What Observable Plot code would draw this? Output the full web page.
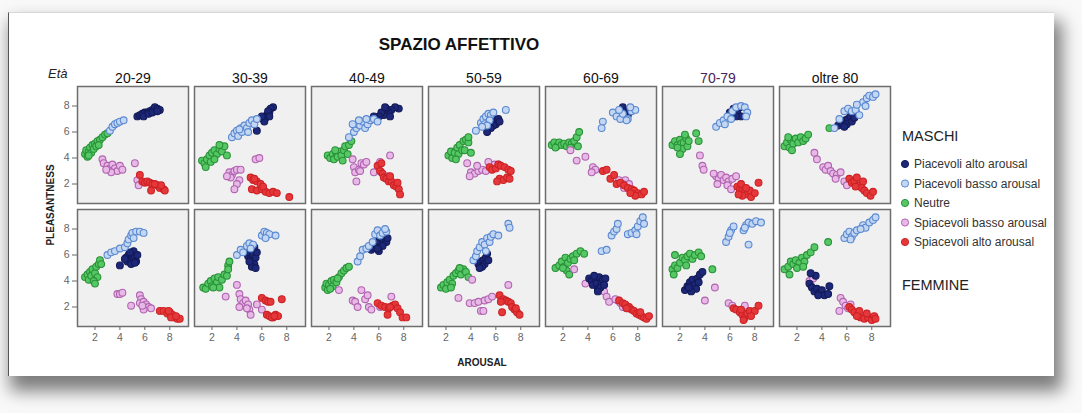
<!DOCTYPE html>
<html><head><meta charset="utf-8">
<script src="https://cdn.jsdelivr.net/npm/d3@7"></script>
<script src="https://cdn.jsdelivr.net/npm/@observablehq/plot@0.6"></script>
<style>
html,body{margin:0;padding:0;background:#f9f9f9;}
#wrap{position:relative;width:1082px;height:413px;overflow:hidden;font-family:"Liberation Sans",Arial,sans-serif;}
#card{position:absolute;left:8px;top:12px;width:1045px;height:363px;background:#fff;box-shadow:5px 12px 16px 3px rgba(0,0,0,0.5);border-left:1px solid #555;border-top:1px solid #d8d8d8;}
#chart{position:absolute;left:0;top:0;}
#overlay{position:absolute;left:0;top:0;}
</style></head>
<body>
<div id="wrap"><div id="card"></div><div id="chart"></div></div>
<script>
// ---- data ----
const ages = ["20-29","30-39","40-49","50-59","60-69","70-79","oltre 80"];
const sexes = ["M","F"];
const sexLabels = ["MASCHI","FEMMINE"];
const categories = ["Piacevoli alto arousal","Piacevoli basso arousal","Neutre","Spiacevoli basso arousal","Spiacevoli alto arousal"];
const xTicks = [2,4,6,8];
const yTicks = [2,4,6,8];

// [sex, age, [[arousal, pleasantness], ...]]
const piacevoliAlto = [
 ["M","20-29",[[5.4,7.2],[5.6,7.3],[5.8,7.4],[6.0,7.5],[6.2,7.5],[6.4,7.6],[6.6,7.7],[6.8,7.9],[7.0,7.8],[7.2,7.7],[5.9,7.2],[6.3,7.4],[6.6,7.5],[7.0,7.6]]],
 ["M","30-39",[[6.9,7.9],[6.7,7.8],[6.6,7.5],[6.4,7.3],[6.3,7.1],[6.1,7.0],[6.2,6.8],[6.0,7.2],[6.5,7.6],[5.6,6.1],[6.6,7.2]]],
 ["M","40-49",[[7.6,7.8],[7.3,7.9],[7.0,7.7],[6.8,7.5],[6.6,7.8],[6.4,7.3],[6.2,7.5],[6.0,7.2],[5.8,7.0],[5.6,7.2],[5.3,6.9],[5.0,6.7],[6.9,7.2],[6.5,7.9]]],
 ["M","50-59",[[5.3,7.0],[5.5,6.8],[5.7,7.1],[5.9,6.9],[6.0,6.6],[6.2,7.0],[5.8,6.5],[5.6,6.3],[5.3,6.0],[6.3,6.8]]],
 ["M","60-69",[[6.8,7.9],[7.0,7.6],[7.2,7.3],[6.9,7.1],[7.3,7.7],[6.6,7.4]]],
 ["M","70-79",[[6.0,7.5],[6.3,7.8],[6.6,7.5],[6.9,7.2],[6.5,7.2],[6.8,7.9]]],
 ["M","oltre 80",[[5.3,6.5],[5.6,6.7],[5.9,6.9],[6.1,7.0],[6.3,7.2],[6.5,7.4],[6.7,7.6],[6.0,6.6],[6.4,6.8],[5.8,6.4],[6.6,7.1]]],
 ["F","20-29",[[4.5,5.8],[4.7,6.0],[4.8,5.6],[5.0,6.1],[5.0,5.7],[5.2,5.9],[5.3,5.5],[5.1,6.3],[4.6,5.5],[4.9,5.3],[5.4,6.0],[4.0,5.2],[4.4,5.7],[5.2,5.4],[4.8,6.2]]],
 ["F","30-39",[[4.9,5.9],[5.0,6.2],[5.1,5.7],[5.2,6.4],[5.3,5.5],[5.3,6.0],[5.4,5.3],[5.5,5.8],[5.2,5.1],[5.6,6.2],[5.4,6.6],[5.0,5.5],[5.5,5.0]]],
 ["F","40-49",[[5.4,6.4],[5.6,6.6],[5.8,6.8],[6.0,7.1],[6.2,7.3],[6.4,7.1],[6.6,7.0],[6.3,6.7],[6.0,6.3],[6.5,7.4],[5.9,6.5],[6.7,7.3]]],
 ["F","50-59",[[4.6,5.3],[4.8,5.5],[5.0,5.6],[5.2,5.8],[5.3,6.1],[5.1,5.3],[4.9,5.1],[5.4,5.6],[4.7,5.0]]],
 ["F","60-69",[[4.1,4.2],[4.3,4.0],[4.4,3.7],[4.6,4.2],[4.7,3.8],[4.8,3.4],[4.9,4.3],[5.1,3.9],[5.2,4.1],[5.0,3.5],[5.4,4.2],[4.5,4.4],[4.8,3.2],[5.3,3.7]]],
 ["F","70-79",[[2.4,3.3],[2.6,3.6],[2.8,3.9],[3.0,4.1],[3.2,3.7],[3.4,4.2],[3.6,4.5],[3.8,4.7],[3.3,3.4],[2.9,3.2],[3.5,3.9],[2.7,3.5]]],
 ["F","oltre 80",[[3.0,3.8],[3.2,3.5],[3.4,3.2],[3.6,3.4],[3.8,3.1],[4.0,3.3],[4.2,2.9],[4.5,3.0],[4.6,3.6],[3.5,4.4],[3.1,4.6],[3.7,2.9]]]
];
const piacevoliBasso = [
 ["M","20-29",[[3.2,6.1],[3.4,6.4],[3.6,6.6],[3.8,6.7],[4.0,6.8],[4.3,6.9]]],
 ["M","30-39",[[3.6,5.6],[3.8,5.9],[4.0,6.1],[4.1,5.7],[4.3,6.3],[4.4,6.0],[4.6,6.5],[4.8,6.3],[5.0,6.7],[5.2,6.9],[5.4,6.6],[5.6,7.0],[4.2,6.2],[4.9,6.0]]],
 ["M","40-49",[[3.6,5.6],[4.0,6.0],[4.2,6.3],[4.3,6.6],[4.5,6.5],[4.7,6.8],[4.9,6.3],[5.1,6.6],[5.3,6.9],[5.6,7.0],[5.9,6.8],[4.4,6.9],[5.0,7.0],[3.9,6.6]]],
 ["M","50-59",[[4.4,6.1],[4.8,6.7],[5.0,7.0],[5.2,7.2],[5.4,7.4],[5.6,7.3],[5.8,7.5],[5.5,6.9],[5.1,6.6],[6.8,7.7],[5.3,6.5],[4.9,6.4]]],
 ["M","60-69",[[6.0,7.5],[6.3,7.2],[6.6,7.0],[6.8,7.4],[7.2,7.0],[7.5,7.6],[7.8,7.7],[7.4,7.9],[6.5,7.7],[7.1,6.9],[5.2,6.8],[5.1,6.3]]],
 ["M","70-79",[[4.9,6.4],[5.2,6.7],[5.5,6.9],[5.8,7.2],[6.2,7.6],[6.5,7.9],[6.9,8.0],[7.2,7.9],[7.4,7.5],[7.3,7.2],[6.1,7.0],[5.6,6.6]]],
 ["M","oltre 80",[[5.0,6.3],[5.4,7.0],[5.8,7.6],[6.1,7.8],[6.4,7.6],[6.7,7.7],[7.3,8.3],[7.6,8.6],[7.8,8.8],[8.1,8.7],[8.3,8.9],[7.5,8.0],[7.0,7.3],[6.8,8.1]]],
 ["F","20-29",[[3.0,6.0],[3.3,6.2],[3.6,6.3],[4.0,6.5],[4.4,6.6],[4.6,6.9],[4.7,7.2],[4.9,7.5],[5.0,7.7],[5.3,7.8],[5.6,7.8],[5.9,7.7],[5.1,7.3]]],
 ["F","30-39",[[4.0,6.0],[4.3,6.4],[4.5,6.2],[4.8,6.7],[5.0,6.9],[5.3,6.8],[6.0,7.5],[6.2,7.8],[6.4,7.7],[6.6,7.6],[7.1,7.5],[6.3,7.3],[5.1,6.5]]],
 ["F","40-49",[[4.3,5.5],[4.5,5.9],[4.7,6.4],[5.0,6.5],[5.2,6.7],[5.7,7.6],[5.9,7.9],[6.1,7.5],[6.3,7.7],[6.6,7.8],[5.5,7.0],[6.5,8.0]]],
 ["F","50-59",[[4.2,5.6],[4.4,5.9],[4.5,6.3],[4.7,6.6],[4.9,7.0],[5.1,6.8],[5.3,7.3],[5.5,7.0],[5.6,7.4],[5.8,7.6],[6.2,7.5],[7.0,8.4],[7.1,8.1],[5.2,6.3]]],
 ["F","60-69",[[5.9,7.5],[6.1,7.8],[6.3,8.0],[6.4,8.4],[7.2,7.6],[7.5,7.7],[7.8,7.9],[8.0,8.2],[8.2,8.6],[8.4,8.9],[8.5,8.4],[7.9,7.6],[5.1,6.3],[5.5,6.4]]],
 ["F","70-79",[[5.7,7.0],[5.9,7.4],[6.1,7.9],[6.3,8.2],[6.0,7.7],[7.1,7.9],[7.3,8.3],[7.5,8.5],[7.8,8.4],[8.1,8.6],[8.5,8.5],[7.5,6.8],[7.2,8.1]]],
 ["F","oltre 80",[[5.8,7.3],[6.0,7.6],[6.2,7.8],[6.4,7.4],[6.6,7.7],[6.8,7.9],[7.3,8.3],[7.5,8.1],[7.8,8.5],[8.1,8.7],[8.3,8.9],[6.3,7.2],[7.1,8.0]]]
];
const neutre = [
 ["M","20-29",[[1.2,4.3],[1.3,4.6],[1.4,4.1],[1.5,4.5],[1.6,4.8],[1.7,4.4],[1.8,5.0],[1.9,4.7],[2.0,5.1],[2.1,4.9],[2.2,5.3],[2.4,5.4],[2.6,5.6],[2.8,5.8],[3.0,5.9],[1.5,4.2],[2.3,5.0]]],
 ["M","30-39",[[1.2,3.8],[1.4,3.6],[1.6,3.9],[1.8,4.2],[1.9,3.7],[2.0,4.4],[2.2,4.6],[2.4,4.3],[2.6,4.7],[2.8,4.5],[3.0,4.9],[1.5,3.3],[2.2,3.9],[3.2,4.2],[2.6,5.0]]],
 ["M","40-49",[[1.9,4.2],[2.1,4.0],[2.3,4.3],[2.4,3.9],[2.6,4.4],[2.7,4.1],[2.9,4.5],[3.0,4.2],[3.2,4.6],[3.3,4.9],[3.5,4.3],[3.6,5.0],[3.8,5.3],[2.5,4.6],[3.1,3.8]]],
 ["M","50-59",[[2.2,4.2],[2.4,4.5],[2.5,4.0],[2.7,4.4],[2.9,4.8],[3.0,4.3],[3.1,5.0],[3.3,4.6],[3.4,5.3],[3.6,5.4],[3.8,5.2],[2.8,3.9],[3.5,4.6],[4.0,4.4],[3.8,5.6]]],
 ["M","60-69",[[1.1,5.0],[1.3,5.2],[1.5,4.9],[1.7,5.2],[1.9,5.0],[2.1,5.1],[2.3,4.9],[2.5,5.2],[2.7,5.1],[2.9,5.3],[3.1,5.6],[3.3,6.0],[3.2,4.9],[1.4,4.8],[2.6,4.8]]],
 ["M","70-79",[[1.4,5.0],[1.6,5.3],[1.8,5.0],[2.0,5.4],[2.1,5.1],[2.3,5.2],[2.5,5.5],[2.2,4.7],[2.0,4.3],[1.8,4.8],[2.6,4.9],[3.3,5.9],[3.5,5.3],[2.4,5.8],[2.7,5.3]]],
 ["M","oltre 80",[[1.0,4.9],[1.2,5.2],[1.4,4.8],[1.5,5.4],[1.7,5.1],[1.9,5.5],[2.1,5.2],[2.3,5.6],[2.5,5.3],[2.7,5.5],[2.9,5.8],[1.3,5.6],[1.6,4.6],[4.6,6.3]]],
 ["F","20-29",[[1.2,4.3],[1.4,4.5],[1.5,4.1],[1.6,4.7],[1.7,4.4],[1.8,4.9],[2.0,4.6],[2.1,5.1],[2.2,4.3],[2.3,5.3],[2.4,5.6],[1.9,4.0],[2.0,3.8],[2.5,5.3]]],
 ["F","30-39",[[1.3,3.5],[1.5,3.4],[1.7,3.8],[1.9,4.0],[2.0,3.6],[2.2,4.2],[2.4,3.9],[2.5,4.3],[2.6,3.5],[2.8,4.1],[3.0,4.5],[3.2,4.4],[3.3,5.2],[3.4,5.5],[3.3,4.9],[2.1,3.5]]],
 ["F","40-49",[[1.7,3.5],[1.8,3.8],[1.9,3.3],[2.0,3.7],[2.2,4.0],[2.3,3.6],[2.4,4.1],[2.6,3.9],[2.8,4.3],[3.0,4.6],[3.2,4.8],[3.4,5.0],[3.6,5.1],[2.1,3.4],[2.7,4.2]]],
 ["F","50-59",[[1.6,3.5],[1.8,3.7],[2.0,3.4],[2.1,3.9],[2.3,4.1],[2.5,3.8],[2.6,4.4],[2.8,4.6],[3.0,4.8],[3.2,4.5],[3.4,4.9],[3.6,4.7],[3.8,4.3],[2.4,3.5],[3.1,5.0]]],
 ["F","60-69",[[1.4,5.0],[1.7,5.2],[1.9,5.5],[2.1,5.1],[2.2,5.8],[2.4,5.4],[2.6,5.7],[2.8,5.9],[3.1,6.1],[3.4,6.3],[3.7,6.1],[2.3,4.8],[2.5,4.5],[2.0,5.0],[2.9,5.6]]],
 ["F","70-79",[[1.4,4.9],[1.6,5.2],[1.5,4.5],[1.8,5.0],[2.0,5.4],[2.2,5.8],[2.4,5.6],[2.6,5.9],[2.8,6.1],[3.0,5.7],[3.2,6.0],[3.5,6.2],[3.7,5.9],[4.6,4.9],[2.5,5.2],[1.6,6.0]]],
 ["F","oltre 80",[[1.0,4.9],[1.3,5.1],[1.5,5.5],[1.7,5.3],[1.9,5.6],[2.2,5.4],[2.4,5.8],[2.6,5.5],[2.8,6.0],[3.1,6.2],[3.4,6.6],[4.5,7.0],[1.4,4.5],[2.0,5.0],[2.5,5.1]]]
];
const spiacevoliBasso = [
 ["M","20-29",[[2.6,3.9],[2.7,3.6],[3.0,3.4],[3.2,3.2],[3.4,3.5],[3.6,3.2],[3.8,3.0],[4.0,3.4],[4.2,3.1],[3.3,2.9],[5.2,3.6],[2.9,3.1],[5.4,2.3],[5.5,1.9]]],
 ["M","30-39",[[3.4,2.9],[3.6,2.7],[3.8,3.0],[4.0,3.1],[4.3,3.1],[3.5,2.5],[4.2,2.3],[4.0,2.0],[3.8,1.6],[5.5,3.9],[5.8,4.0],[3.2,2.6]]],
 ["M","40-49",[[4.0,3.3],[4.1,2.9],[4.4,3.1],[4.6,3.6],[4.8,3.5],[5.0,3.7],[4.2,2.2],[4.5,3.0],[5.6,2.9],[6.2,2.9],[6.9,4.2],[6.7,2.6],[6.1,3.7],[3.9,3.9]]],
 ["M","50-59",[[3.7,3.6],[4.0,2.9],[4.3,2.8],[4.6,3.0],[4.9,3.1],[5.2,3.0],[5.5,3.3],[5.9,3.5],[4.5,3.4],[3.9,2.6],[5.4,3.7],[6.2,3.5]]],
 ["M","60-69",[[2.6,4.6],[3.1,3.8],[3.8,4.1],[4.4,3.3],[4.6,3.1],[4.3,2.9],[7.0,2.3],[7.2,1.8],[6.8,2.0],[6.5,2.3],[7.3,2.0],[6.9,1.7]]],
 ["M","70-79",[[3.6,4.2],[3.8,3.4],[3.9,3.1],[4.9,2.6],[5.1,2.4],[5.3,2.7],[5.5,2.3],[5.7,2.5],[5.9,2.2],[6.2,2.4],[6.5,2.6],[5.0,2.0],[5.8,1.9],[6.1,1.6],[4.7,2.8]]],
 ["M","oltre 80",[[3.4,4.4],[3.6,3.9],[4.1,3.3],[4.3,3.1],[4.5,3.4],[4.7,3.0],[4.9,2.8],[5.2,2.7],[5.5,2.9],[5.1,2.4],[5.8,2.2],[6.0,1.9]]],
 ["F","20-29",[[3.8,3.0],[4.0,3.0],[4.2,3.1],[4.9,2.1],[5.6,2.9],[5.7,2.6],[5.6,2.3],[5.9,2.4],[6.1,2.2],[6.3,2.0],[5.9,1.8],[6.5,1.9],[5.8,2.1]]],
 ["F","30-39",[[3.1,2.8],[4.0,3.7],[4.2,3.0],[4.3,2.6],[4.5,2.3],[4.2,2.0],[4.7,2.5],[4.9,2.2],[5.0,1.8],[5.1,1.4],[5.6,2.2],[6.0,1.8],[4.8,1.9]]],
 ["F","40-49",[[2.8,3.3],[3.9,2.5],[4.1,2.4],[4.6,3.3],[4.9,2.6],[5.1,2.9],[5.2,2.0],[5.4,1.8],[6.1,2.0],[7.0,2.8],[4.3,2.0]]],
 ["F","50-59",[[3.0,2.7],[3.9,2.3],[4.3,2.3],[4.6,2.4],[5.1,2.5],[5.4,2.6],[5.7,2.8],[7.0,3.7],[4.1,4.1],[4.8,1.7],[5.0,1.7]]],
 ["F","60-69",[[3.8,3.8],[5.3,3.2],[5.5,2.8],[5.7,2.4],[6.4,2.5],[6.6,2.3],[6.8,2.0],[7.0,2.1],[6.2,2.6],[7.2,1.9],[2.9,4.9]]],
 ["F","70-79",[[4.8,3.5],[4.0,2.5],[5.9,2.3],[6.2,2.1],[7.2,2.1]]],
 ["F","oltre 80",[[3.0,4.0],[3.3,4.2],[5.5,2.7],[5.7,2.4],[5.9,2.1],[6.1,1.9],[5.4,1.7],[6.3,2.2],[3.1,3.7]]]
];
const spiacevoliAlto = [
 ["M","20-29",[[5.6,2.7],[5.8,2.2],[6.0,2.1],[6.2,2.2],[6.4,2.1],[6.6,2.0],[6.5,1.5],[7.0,1.9],[7.2,1.7],[7.5,1.6],[7.6,1.5],[7.3,1.9],[6.8,2.0]]],
 ["M","30-39",[[5.1,2.5],[5.3,2.3],[5.6,2.2],[5.9,2.0],[5.2,1.6],[5.6,1.5],[6.0,1.6],[6.3,1.4],[6.6,1.3],[6.9,1.4],[7.2,1.3],[8.2,1.0],[5.4,2.4],[6.1,1.8]]],
 ["M","40-49",[[5.9,3.4],[6.1,3.0],[6.3,2.8],[6.4,2.5],[6.6,2.4],[6.8,2.2],[7.0,2.2],[7.2,1.9],[7.4,1.8],[7.6,1.6],[7.7,1.2],[7.5,2.1],[6.2,3.6],[6.9,2.6]]],
 ["M","50-59",[[5.5,3.3],[5.7,3.1],[6.0,3.2],[6.2,3.5],[6.4,3.4],[6.7,3.3],[7.0,3.1],[7.2,3.0],[6.3,2.4],[6.6,2.3],[6.9,2.5],[7.1,2.4],[6.1,2.2]]],
 ["M","60-69",[[5.2,3.0],[5.5,3.1],[5.8,2.4],[6.1,2.7],[6.3,2.0],[6.6,2.1],[6.9,1.9],[7.2,1.7],[7.5,1.6],[7.7,1.5],[8.0,1.3],[8.3,1.2],[7.8,1.1],[8.5,1.4],[7.4,1.3]]],
 ["M","70-79",[[6.6,1.8],[6.8,1.6],[7.0,1.5],[7.2,1.4],[7.4,1.2],[7.0,1.1],[7.6,1.5],[8.3,2.1],[6.9,2.0],[7.7,1.0],[7.3,1.7],[8.0,1.3],[6.7,1.2]]],
 ["M","oltre 80",[[6.2,2.4],[6.4,2.1],[6.6,2.2],[6.8,2.5],[7.0,1.9],[7.2,1.7],[7.4,1.5],[7.6,1.3],[7.9,1.1],[8.1,1.4],[6.7,1.8],[7.3,2.2]]],
 ["F","20-29",[[7.2,1.7],[7.5,1.7],[7.8,1.5],[8.0,1.6],[8.2,1.4],[8.4,1.2],[8.6,1.1],[8.8,1.1],[8.1,1.2],[8.5,1.3],[7.9,1.7]]],
 ["F","30-39",[[6.0,2.7],[6.3,2.5],[6.5,2.4],[6.4,1.4],[6.6,1.3],[6.9,1.2],[7.1,1.4],[7.3,1.3],[7.6,2.6],[6.8,1.2],[7.0,1.3],[6.7,2.4]]],
 ["F","40-49",[[5.9,2.3],[6.2,2.1],[6.5,2.0],[6.8,1.9],[7.1,2.1],[7.3,2.2],[7.5,1.9],[7.7,1.6],[6.7,1.4],[7.9,1.2],[8.2,1.2],[6.9,2.0]]],
 ["F","50-59",[[6.3,2.9],[6.6,2.6],[6.8,2.5],[7.0,2.4],[7.2,2.3],[7.3,2.0],[7.5,1.8],[7.7,1.6],[7.9,1.4],[6.4,2.4],[6.5,1.6],[7.6,1.9]]],
 ["F","60-69",[[6.5,2.5],[6.8,2.3],[7.0,2.2],[7.3,2.0],[7.5,1.8],[7.7,1.7],[7.9,1.5],[8.1,1.4],[8.3,1.3],[8.5,1.2],[8.7,1.1],[8.9,1.3],[7.1,1.9],[8.2,1.6]]],
 ["F","70-79",[[6.3,1.9],[6.5,1.8],[6.8,1.6],[7.0,1.4],[7.2,1.2],[7.4,1.5],[7.6,1.7],[8.0,1.7],[8.3,2.1],[7.1,1.0],[6.9,1.8],[7.7,1.3]]],
 ["F","oltre 80",[[6.2,2.0],[6.4,1.8],[6.6,1.6],[6.9,1.4],[7.1,1.2],[7.4,1.1],[7.7,1.2],[8.0,1.0],[8.2,1.3],[7.0,1.7],[6.8,1.3],[7.6,1.5],[8.3,1.1]]]
];

// ---- styling ----
const seriesData = [piacevoliAlto, piacevoliBasso, neutre, spiacevoliBasso, spiacevoliAlto];
const fills   = ["#1d2878","#c3d7f3","#55c865","#e8b8e6","#e6383a"];
const strokes = ["#121a58","#5a88d0","#2a9238","#b064b0","#cc2225"];
const drawOrder = [2,3,4,0,1];

function flatten(list, cat) {
  const out = [];
  for (const [sex, age, pts] of list) for (const [x, y] of pts) out.push({cat, sex, age, x, y});
  return out;
}

const dotMarks = drawOrder.map(i => Plot.dot(flatten(seriesData[i], categories[i]), {
  x: "x", y: "y", fx: "age", fy: "sex", r: 3.4,
  fill: fills[i], stroke: strokes[i], strokeWidth: 1.1
}));

const chart = Plot.plot({
  width: 1082, height: 413,
  marginLeft: 76, marginRight: 191, marginTop: 86, marginBottom: 87,
  style: {background: "transparent", fontFamily: "'Liberation Sans', Arial, sans-serif", overflow: "visible"},
  x: {domain: [0.6, 9.5]},
  y: {domain: [0.5, 9.5]},
  fx: {domain: ages, paddingInner: 0.05, paddingOuter: 0, axis: null},
  fy: {domain: sexes, paddingInner: 0.05, paddingOuter: 0, axis: null},
  marks: [
    Plot.frame({fill: "#f0f0f0"}),
    Plot.axisX({ticks: xTicks, tickSize: 4, tickPadding: 3, fontSize: 10.5, color: "#666", label: null}),
    Plot.axisY({ticks: yTicks, tickSize: 5, tickPadding: 3, fontSize: 10.5, color: "#666", label: null}),
    ...dotMarks,
    Plot.frame({stroke: "#6e6e6e", strokeWidth: 1.5}),
    Plot.text(ages, {fx: d => d, fy: () => "M", text: d => d, frameAnchor: "top", dy: -13,
      fontSize: 14, fill: d => d === "70-79" ? "#4a2458" : "#111"})
  ]
});
document.getElementById("chart").appendChild(chart);

// ---- annotations (title, axis names, legend) ----
const ns = "http://www.w3.org/2000/svg";
const ov = document.createElementNS(ns, "svg");
ov.setAttribute("id", "overlay");
ov.setAttribute("width", 1082); ov.setAttribute("height", 413);
ov.style.fontFamily = "'Liberation Sans', Arial, sans-serif";
function txt(s, x, y, attrs = {}) {
  const t = document.createElementNS(ns, "text");
  t.setAttribute("x", x); t.setAttribute("y", y);
  for (const k in attrs) t.setAttribute(k, attrs[k]);
  t.textContent = s; ov.appendChild(t); return t;
}
txt("SPAZIO AFFETTIVO", 459, 50, {"text-anchor": "middle", "font-size": 17, "font-weight": "bold", fill: "#111"});
txt("Età", 48, 78, {"font-size": 13, "font-style": "italic", fill: "#222"});
txt("PLEASANTNESS", 0, 0, {"text-anchor": "middle", "font-size": 10, "font-weight": "bold", fill: "#222", transform: "translate(54,205) rotate(-90)"});
txt("AROUSAL", 482, 366, {"text-anchor": "middle", "font-size": 10, "font-weight": "bold", fill: "#222"});
txt(sexLabels[0], 902, 141, {"font-size": 14.5, fill: "#222"});
txt(sexLabels[1], 902, 290, {"font-size": 14.5, fill: "#222"});
categories.forEach((c, i) => {
  const cy = 164 + i * 19.5;
  const circ = document.createElementNS(ns, "circle");
  circ.setAttribute("cx", 905); circ.setAttribute("cy", cy); circ.setAttribute("r", 3.6);
  circ.setAttribute("fill", fills[i]); circ.setAttribute("stroke", strokes[i]);
  ov.appendChild(circ);
  txt(c, 914, cy + 4, {"font-size": 12, fill: "#333"});
});
document.getElementById("wrap").appendChild(ov);
</script>
</body></html>
